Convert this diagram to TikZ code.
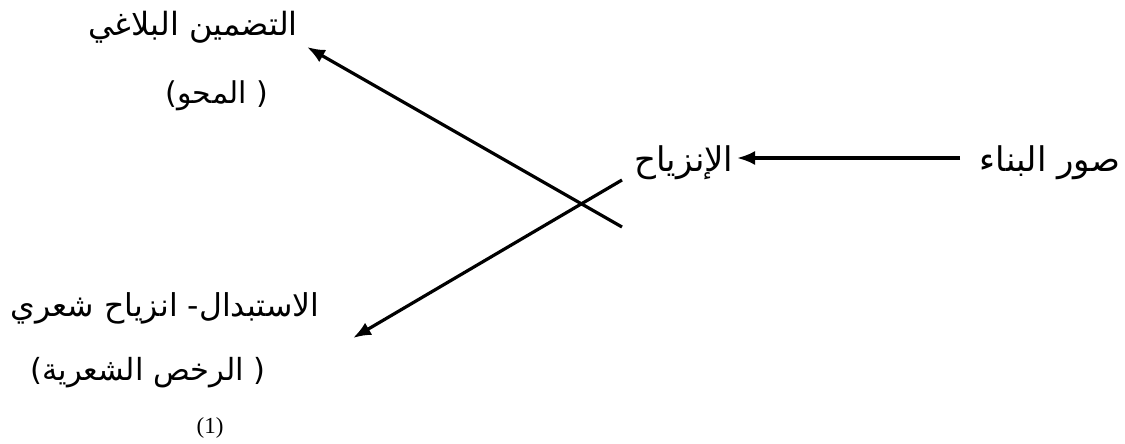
\documentclass[tikz,border=0pt]{standalone}
\usepackage{fontspec}
\usetikzlibrary{arrows.meta}
\TeXXeTstate=1
\newfontfamily\arabicfont[Script=Arabic]{DejaVu Sans}
\newfontfamily\latinserif{Liberation Serif}
\begin{document}
\begin{tikzpicture}[x=1pt,y=-1pt,
  ar/.style={inner sep=0pt,font=\arabicfont\fontsize{#1}{#1}\selectfont},
  conn/.style={line width=3.2pt,-{Latex[length=18pt,width=14pt]}}]
\useasboundingbox (0,0) rectangle (1125,444);
\node[ar=32] (t1)  at (193,27)  {\beginR التضمين البلاغي\endR};
\node[ar=30] (t1b) at (217,96) {\beginR( المحو)\endR};
\node[ar=31.5] (t2)  at (165,308) {\beginR الاستبدال- انزياح شعري\endR};
\node[ar=30.5] (t2b) at (148,373) {\beginR( الرخص الشعرية)\endR};
\node[inner sep=0pt,font=\latinserif\fontsize{23}{24}\selectfont] (num) at (210,428) {(1)};
\node[ar=34] (inz) at (684,163) {\beginR الإنزياح\endR};
\node[ar=34] (sowar) at (1050,163) {\beginR صور البناء\endR};
\coordinate (s0) at (960,158);
\coordinate (s1) at (737,158);
\coordinate (a0) at (622,227);
\coordinate (a1) at (307,47);
\coordinate (b0) at (622,180);
\coordinate (b1) at (353,338);
\draw[conn] (s0) -- (s1);
\draw[conn] (a0) -- (a1);
\draw[conn] (b0) -- (b1);
\end{tikzpicture}
\end{document}
